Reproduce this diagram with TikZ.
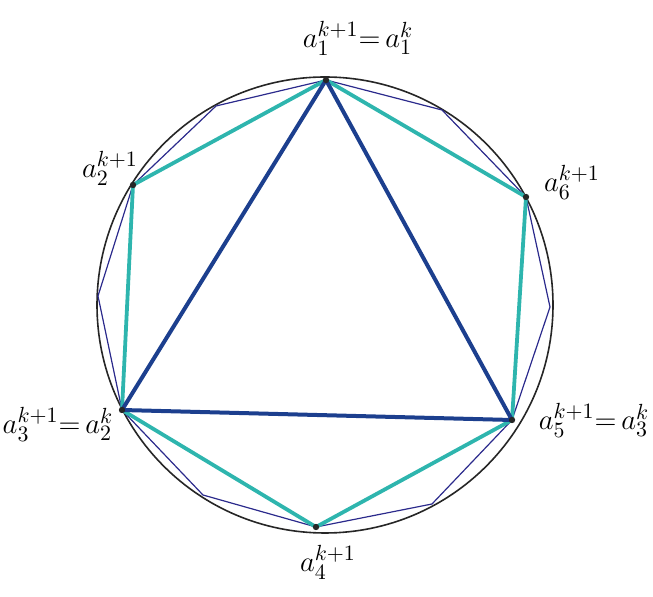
\documentclass[tikz,border=0pt]{standalone}
\usepackage{tikz}
\definecolor{tri}{HTML}{1C3F8E}
\definecolor{hex}{HTML}{2EB5AE}
\definecolor{dod}{HTML}{2B2A8C}
\tikzset{
  lbl/.style={inner sep=0pt, font=\fontsize{15}{18}\selectfont},
  triline/.style={draw=tri, line width=2pt, line join=round},
  hexline/.style={draw=hex, line width=1.9pt, line join=round},
  dodline/.style={draw=dod, line width=0.6pt, line join=round},
  circline/.style={draw=black!85, line width=0.8pt},
  vdot/.style={fill=black!85}
}
\begin{document}
\begin{tikzpicture}[x=0.5pt,y=-0.5pt]
\useasboundingbox (0,0) rectangle (653,597);
% circle
\coordinate (O) at (325,305);
\draw[circline] (O) circle [radius=114pt];
% hexagon vertices
\coordinate (a1) at (326,80);
\coordinate (a2) at (133,185);
\coordinate (a3) at (122,410);
\coordinate (a4) at (316,527);
\coordinate (a5) at (512,420);
\coordinate (a6) at (526,197);
% 12-gon intermediate vertices
\coordinate (b1) at (216,106);
\coordinate (b2) at (98,296);
\coordinate (b3) at (203,495);
\coordinate (b4) at (432,504);
\coordinate (b5) at (550,307);
\coordinate (b6) at (442,110);
% 12-gon
\draw[dodline] (a1) -- (b1) -- (a2) -- (b2) -- (a3) -- (b3) -- (a4) -- (b4) -- (a5) -- (b5) -- (a6) -- (b6) -- cycle;
% hexagon
\draw[hexline] (a1) -- (a2) -- (a3) -- (a4) -- (a5) -- (a6) -- cycle;
% triangle
\draw[triline] (a1) -- (a3) -- (a5) -- cycle;
% vertex dots
\foreach \p in {a1,a2,a3,a4,a5,a6} \fill[vdot] (\p) circle [radius=1.6pt];
% labels
\node[lbl] (l1) at (358,38) {$a_1^{k+1}{=}\,a_1^{k}$};
\node[lbl] (l2) at (110,168) {$a_2^{k+1}$};
\node[lbl] (l6) at (572,182) {$a_6^{k+1}$};
\node[lbl] (l3) at (58,424) {$a_3^{k+1}{=}\,a_2^{k}$};
\node[lbl] (l5) at (594,420) {$a_5^{k+1}{=}\,a_3^{k}$};
\node[lbl] (l4) at (328,562) {$a_4^{k+1}$};
\end{tikzpicture}
\end{document}
